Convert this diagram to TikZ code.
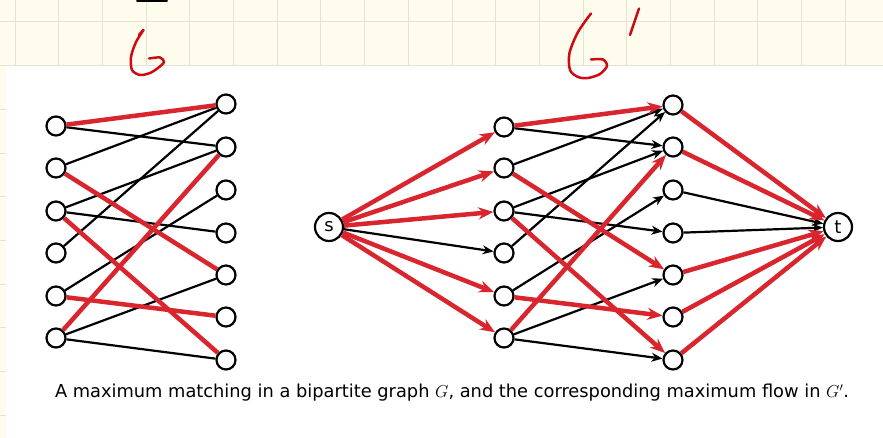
\documentclass[tikz,border=0pt]{standalone}
\usepackage{fontspec}
\setsansfont{DejaVu Sans}
\usepackage{xcolor}
\usetikzlibrary{arrows.meta}
\definecolor{matchred}{RGB}{217,38,46}
\definecolor{inkred}{RGB}{204,12,18}
\definecolor{paper}{RGB}{254,252,236}
\definecolor{gridline}{RGB}{230,227,214}

\begin{document}
\begin{tikzpicture}[x=1pt, y=-1pt,
  vertex/.style={circle, draw=black, line width=2.2pt, fill=white, minimum size=19pt, inner sep=0pt},
  terminal/.style={circle, draw=black, line width=2.2pt, fill=white, minimum size=28pt, inner sep=0pt, font=\sffamily\fontsize{18}{18}\selectfont},
  plain/.style={line width=2.2pt, black},
  match/.style={line width=4.5pt, matchred},
  flow/.style={plain, -{Stealth[length=11pt, width=9pt]}},
  mflow/.style={match, -{Stealth[length=15pt, width=12pt]}},
  ink/.style={inkred, line width=2.5pt, line cap=round, line join=round}
]
% notebook paper
\fill[paper] (0,0) rectangle (883,438);
\useasboundingbox (0,0) rectangle (883,438);
\foreach \gx in {15,58.7,...,883} \draw[gridline, line width=1pt] (\gx,0) -- (\gx,438);
\foreach \gy in {22,65.7,...,438} \draw[gridline, line width=1pt] (0,\gy) -- (883,\gy);
\fill[white] (6,66) rectangle (883,438);

% handwriting
\draw[black, line width=2pt, line cap=round] (137,0.8) -- (167,0.8);
\draw[ink] plot[smooth] coordinates {(139,35) (143.5,30) (136,42) (131,57) (132,70) (140,75) (150,73) (158,68) (164,62) (160,57.5) (149,58.5)};
\draw[ink] plot[smooth] coordinates {(591,13.5) (578,32) (569.5,53) (570,70) (578,77) (588,78) (600,74) (607,66) (603,59.5) (591,59.5)};
\draw[ink] (639,8.5) -- (630,35);

% bipartite graph G
\node[vertex] (a1) at (56,126) {};
\node[vertex] (a2) at (56,168) {};
\node[vertex] (a3) at (56,211) {};
\node[vertex] (a4) at (56,253) {};
\node[vertex] (a5) at (56,296) {};
\node[vertex] (a6) at (56,338) {};
\node[vertex] (b1) at (226,104) {};
\node[vertex] (b2) at (226,147) {};
\node[vertex] (b3) at (226,190) {};
\node[vertex] (b4) at (226,233) {};
\node[vertex] (b5) at (226,275) {};
\node[vertex] (b6) at (226,317) {};
\node[vertex] (b7) at (226,360) {};

\draw[plain] (a1) -- (b2);
\draw[plain] (a2) -- (b1);
\draw[plain] (a3) -- (b2);
\draw[plain] (a3) -- (b4);
\draw[plain] (a4) -- (b1);
\draw[plain] (a5) -- (b3);
\draw[plain] (a6) -- (b5);
\draw[plain] (a6) -- (b7);
\draw[match] (a1) -- (b1);
\draw[match] (a2) -- (b5);
\draw[match] (a3) -- (b7);
\draw[match] (a5) -- (b6);
\draw[match] (a6) -- (b2);

% flow network G'
\node[terminal] (s) at (329,227) {s};
\node[terminal] (t) at (838,227) {t};
\node[vertex] (u1) at (504,127) {};
\node[vertex] (u2) at (504,168) {};
\node[vertex] (u3) at (504,211) {};
\node[vertex] (u4) at (504,253) {};
\node[vertex] (u5) at (504,296) {};
\node[vertex] (u6) at (504,338) {};
\node[vertex] (v1) at (673,105) {};
\node[vertex] (v2) at (673,147) {};
\node[vertex] (v3) at (673,190) {};
\node[vertex] (v4) at (673,233) {};
\node[vertex] (v5) at (673,275) {};
\node[vertex] (v6) at (673,317) {};
\node[vertex] (v7) at (673,360) {};

\draw[flow] (s) -- (u4);
\draw[mflow] (s) -- (u1);
\draw[mflow] (s) -- (u2);
\draw[mflow] (s) -- (u3);
\draw[mflow] (s) -- (u5);
\draw[mflow] (s) -- (u6);

\draw[flow] (u1) -- (v2);
\draw[flow] (u2) -- (v1);
\draw[flow] (u3) -- (v2);
\draw[flow] (u3) -- (v4);
\draw[flow] (u4) -- (v1);
\draw[flow] (u5) -- (v3);
\draw[flow] (u6) -- (v5);
\draw[flow] (u6) -- (v7);
\draw[mflow] (u1) -- (v1);
\draw[mflow] (u2) -- (v5);
\draw[mflow] (u3) -- (v7);
\draw[mflow] (u5) -- (v6);
\draw[mflow] (u6) -- (v2);

\draw[flow] (v3) -- (t);
\draw[flow] (v4) -- (t);
\draw[mflow] (v1) -- (t);
\draw[mflow] (v2) -- (t);
\draw[mflow] (v5) -- (t);
\draw[mflow] (v6) -- (t);
\draw[mflow] (v7) -- (t);

% caption
\node[font=\sffamily\fontsize{17.8}{20}\selectfont] (caption) at (452,393)
  {A maximum matching in a bipartite graph $G$, and the corresponding maximum flow in $G'$.};
\end{tikzpicture}
\end{document}
